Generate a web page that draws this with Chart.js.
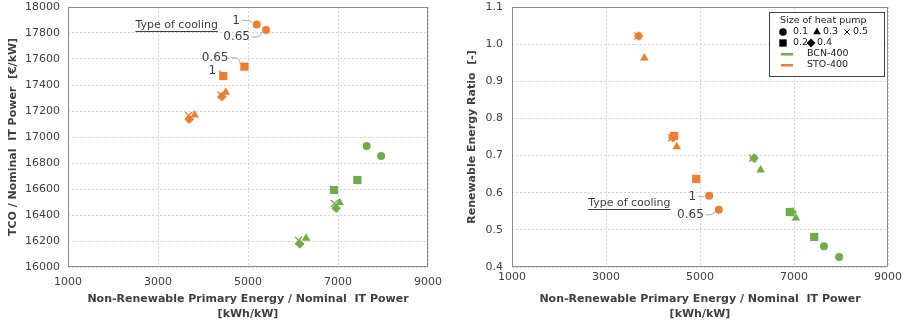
<!DOCTYPE html>
<html>
<head>
<meta charset="utf-8">
<script src="https://cdn.jsdelivr.net/npm/chart.js@4/dist/chart.umd.min.js"></script>
<style>
  html, body { margin: 0; padding: 0; background: #fff; }
  #wrap { position: relative; width: 903px; height: 321px; }
  .box { position: absolute; top: 0; height: 321px; }
</style>
</head>
<body>
<div id="wrap">
  <div class="box" style="left:0;width:450px"><canvas id="tcoChart"></canvas></div>
  <div class="box" style="left:450px;width:453px"><canvas id="rerChart"></canvas></div>
</div>
<script>
// ---- data ----
// every pair is [type of cooling 1, type of cooling 0.65]
const sizes = ['0.1', '0.2', '0.3', '0.4', '0.5'];
const cities = ['BCN-400', 'STO-400'];

const bcnEnergy = [[7637, 7960], [6910, 7430], [6290, 7040], [6150, 6960], [6125, 6920]];
const bcnTco    = [[16931, 16854], [16592, 16669], [16221, 16495], [16177, 16452], [16205, 16488]];
const bcnRer    = [[0.456, 0.427], [0.548, 0.481], [0.661, 0.532], [0.693, 0.548], [0.693, 0.548]];

const stoEnergy = [[5195, 5400], [4450, 4920], [3815, 4505], [3695, 4420], [3680, 4400]];
const stoTco    = [[17865, 17823], [17469, 17541], [17170, 17345], [17136, 17310], [17165, 17323]];
const stoRer    = [[0.592, 0.554], [0.753, 0.637], [0.963, 0.724], [1.022, 0.748], [1.022, 0.748]];

const xTicks = [1000, 3000, 5000, 7000, 9000];

// ---- styling ----
const GREEN = '#70AD47';
const ORANGE = '#ED7D31';
const TEXT = '#404040';
const shapes = ['circle', 'rect', 'triangle', 'rectRot', 'crossRot'];
const radii = [4, 5.8, 5, 4.8, 5];

Chart.defaults.font.family = "'DejaVu Sans', Verdana, sans-serif";
Chart.defaults.color = TEXT;

function buildDatasets(yGreen, yOrange) {
    const sets = [];
    [[bcnEnergy, yGreen, GREEN], [stoEnergy, yOrange, ORANGE]].forEach(([ex, ys, col], c) => {
        sizes.forEach((s, i) => {
            sets.push({
                label: cities[c] + ' ' + s,
                data: ex[i].map((x, k) => ({ x: x, y: ys[i][k] })),
                pointStyle: shapes[i],
                pointRadius: radii[i],
                pointHoverRadius: radii[i],
                backgroundColor: col,
                borderColor: col,
                borderWidth: 0,
                pointBorderWidth: shapes[i] === 'crossRot' ? 1.3 : 0,
                showLine: false
            });
        });
    });
    return sets;
}

// plot frame (all four sides)
const frame = {
    id: 'frame',
    beforeDatasetsDraw(chart) {
        const { ctx, chartArea: a } = chart;
        ctx.save();
        ctx.strokeStyle = '#8c8c8c';
        ctx.lineWidth = 1;
        ctx.strokeRect(Math.round(a.left) + 0.5, Math.round(a.top) + 0.5,
            Math.round(a.right - a.left) - 1, Math.round(a.bottom - a.top) - 1);
        ctx.restore();
    }
};

// "Type of cooling" labels with leader lines, anchored to the points
function coolingNotes(title, notes) {
    return {
        id: 'coolingNotes',
        afterDatasetsDraw(chart) {
            const { ctx, scales } = chart;
            ctx.save();
            ctx.fillStyle = TEXT;
            ctx.textBaseline = 'middle';
            ctx.font = "11px 'DejaVu Sans'";
            const tx = scales.x.getPixelForValue(title.x);
            const ty = scales.y.getPixelForValue(title.y);
            ctx.textAlign = 'left';
            ctx.fillText('Type of cooling', tx, ty);
            const tw = ctx.measureText('Type of cooling').width;
            ctx.strokeStyle = TEXT;
            ctx.lineWidth = 1;
            ctx.beginPath();
            ctx.moveTo(tx, Math.round(ty + 6) + 0.5);
            ctx.lineTo(tx + tw, Math.round(ty + 6) + 0.5);
            ctx.stroke();

            ctx.font = "12px 'DejaVu Sans'";
            ctx.textAlign = 'right';
            notes.forEach(n => {
                const el = chart.getDatasetMeta(n.dataset).data[n.index];
                const lx = el.x + n.dx, ly = el.y + n.dy;
                ctx.fillStyle = TEXT;
                ctx.fillText(n.text, lx, ly);
                const sx = lx + 2, sy = ly;
                const vx = sx - el.x, vy = sy - el.y;
                const len = Math.hypot(vx, vy) || 1;
                const exx = el.x + vx / len * 5, eyy = el.y + vy / len * 5;
                ctx.strokeStyle = '#a6a6a6';
                ctx.beginPath();
                ctx.moveTo(sx, sy);
                ctx.lineTo(sx + 3, sy);
                ctx.quadraticCurveTo(exx, sy, exx, eyy);
                ctx.stroke();
            });
            ctx.restore();
        }
    };
}

// marker / city key on the right chart
const sizeLegend = {
    id: 'sizeLegend',
    afterDraw(chart) {
        const { ctx, chartArea: a } = chart;
        const w = 115, h = 64;
        const x0 = Math.round(a.right) - 4 - w, y0 = Math.round(a.top) + 5;
        ctx.save();
        ctx.fillStyle = '#fff';
        ctx.fillRect(x0, y0, w, h);
        ctx.strokeStyle = '#404040';
        ctx.lineWidth = 1;
        ctx.strokeRect(x0 + 0.5, y0 + 0.5, w, h);
        ctx.font = "9.5px 'DejaVu Sans'";
        ctx.textBaseline = 'middle';
        ctx.textAlign = 'left';
        ctx.fillStyle = '#202020';
        ctx.fillText('Size of heat pump', x0 + 11, y0 + 9);
        const keys = [
            [0, 14, 20, 3.8], [2, 48, 20, 4.4], [4, 78, 20, 3.6],
            [1, 14, 31, 5.2], [3, 42, 31, 4.4]
        ];
        keys.forEach(([i, kx, ky, r]) => {
            ctx.fillStyle = '#000';
            ctx.strokeStyle = '#000';
            Chart.helpers.drawPoint(ctx, {
                pointStyle: shapes[i], radius: r, rotation: 0,
                borderWidth: shapes[i] === 'crossRot' ? 0.8 : 0
            }, x0 + kx, y0 + ky);
            ctx.fillStyle = '#202020';
            ctx.fillText(sizes[i], x0 + kx + (i === 0 || i === 1 ? 10 : 6), y0 + ky);
        });
        [[GREEN, 42], [ORANGE, 53]].forEach(([col, ky], c) => {
            ctx.fillStyle = col;
            ctx.fillRect(x0 + 12, y0 + ky - 1, 12, 2.5);
            ctx.fillStyle = '#202020';
            ctx.fillText(cities[c], x0 + 38, y0 + ky);
        });
        ctx.restore();
    }
};

function makeChart(id, cfg) {
    return new Chart(document.getElementById(id), {
        type: 'scatter',
        data: { datasets: cfg.datasets },
        options: {
            responsive: true,
            maintainAspectRatio: false,
            animation: false,
            events: [],
            layout: { autoPadding: false, padding: { top: 0, right: cfg.padRight, left: 0, bottom: 0 } },
            plugins: { legend: { display: false }, tooltip: { enabled: false } },
            scales: {
                x: {
                    type: 'linear', min: 1000, max: 9000,
                    afterBuildTicks: s => { s.ticks = xTicks.map(v => ({ value: v })); },
                    // fixed axis band; end labels may hang over the edges
                    afterFit: s => { s.height = 54; s.paddingLeft = 0; s.paddingRight = 0; },
                    ticks: { font: { size: 11 }, color: TEXT, padding: cfg.xPad, callback: v => String(v) },
                    grid: { color: '#d4d4d4', drawTicks: false },
                    border: { display: false, dash: [2, 2] },
                    title: {
                        display: true,
                        text: ['Non-Renewable Primary Energy / Nominal  IT Power', '[kWh/kW]'],
                        font: { size: 11, weight: 'bold', lineHeight: 1.3 },
                        color: TEXT,
                        padding: { top: 0, bottom: 0 }
                    }
                },
                y: {
                    type: 'linear', min: cfg.yMin, max: cfg.yMax,
                    afterFit: s => { s.width = cfg.yWidth; s.paddingTop = 7; s.paddingBottom = 7; },
                    ticks: { stepSize: cfg.yStep, font: { size: 11 }, color: TEXT, padding: cfg.yPad,
                        callback: cfg.yFmt },
                    grid: { color: '#d4d4d4', drawTicks: false },
                    border: { display: false, dash: [2, 2] },
                    title: {
                        display: true, text: cfg.yTitle,
                        font: { size: 11, weight: 'bold' }, color: TEXT,
                        padding: { top: cfg.yTitlePad, bottom: 0 }
                    }
                }
            }
        },
        plugins: cfg.plugins
    });
}

// dataset index of STO-400 series for a size
const sto = i => sizes.length + i;

makeChart('tcoChart', {
    datasets: buildDatasets(bcnTco, stoTco),
    padRight: 22, yWidth: 68, yPad: 8, xPad: 9, yTitlePad: 7,
    yMin: 16000, yMax: 18000, yStep: 200,
    yFmt: v => String(v),
    yTitle: 'TCO / Nominal  IT Power  [€/kW]',
    plugins: [frame, coolingNotes({ x: 2500, y: 17862 }, [
        { dataset: sto(0), index: 0, text: '1', dx: -17, dy: -4 },
        { dataset: sto(0), index: 1, text: '0.65', dx: -16, dy: 7 },
        { dataset: sto(1), index: 1, text: '0.65', dx: -16, dy: -9 },
        { dataset: sto(1), index: 0, text: '1', dx: -7, dy: -5 }
    ])]
});

makeChart('rerChart', {
    datasets: buildDatasets(bcnRer, stoRer),
    padRight: 15, yWidth: 62, yPad: 9, xPad: 4, yTitlePad: 16,
    yMin: 0.4, yMax: 1.1, yStep: 0.1,
    yFmt: v => Number(v).toFixed(1),
    yTitle: 'Renewable Energy Ratio  [-]',
    plugins: [frame, coolingNotes({ x: 2620, y: 0.572 }, [
        { dataset: sto(0), index: 0, text: '1', dx: -13, dy: 1 },
        { dataset: sto(0), index: 1, text: '0.65', dx: -15, dy: 5 }
    ]), sizeLegend]
});
</script>
</body>
</html>
